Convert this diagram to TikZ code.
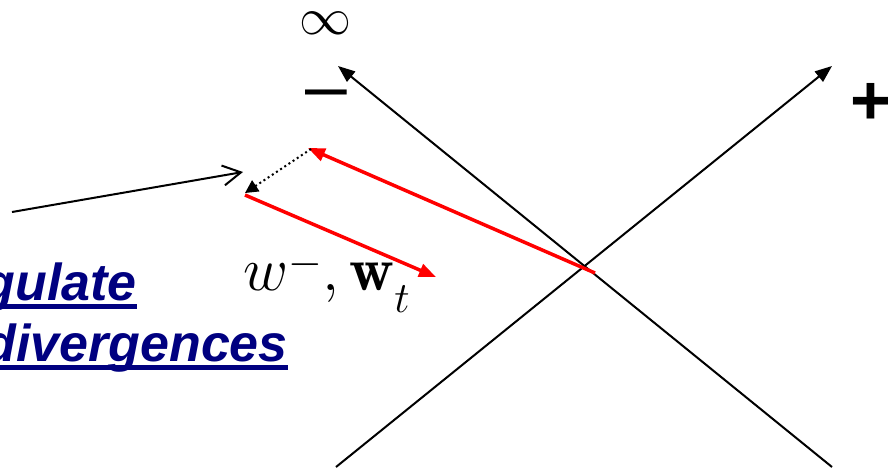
\RequirePackage{fix-cm}
\documentclass[tikz,border=0pt]{standalone}
\usepackage{fontspec}
\newfontfamily\arialfont{Liberation Sans}
\usetikzlibrary{arrows.meta}
\definecolor{navytext}{RGB}{0,0,128}
\definecolor{redline}{RGB}{255,0,0}
\begin{document}
\begin{tikzpicture}[x=1pt,y=-1pt,
  axisline/.style={line width=2pt,-{Triangle[length=17pt,width=13pt]}},
  redarrow/.style={redline,line width=3.5pt,-{Triangle[length=17pt,width=13pt]}},
  dotarrow/.style={line width=2pt,dash pattern=on 2pt off 3pt,-{Triangle[length=13pt,width=13pt]}},
  openarrow/.style={line width=2pt,-{Straight Barb[length=18pt,width=20pt]}},
  bluetxt/.style={inner sep=0pt,text=navytext,font=\arialfont\bfseries\itshape\fontsize{52}{60}\selectfont},
  symtxt/.style={inner sep=0pt,font=\arialfont\bfseries\fontsize{70}{80}\selectfont},
  dashtxt/.style={inner sep=0pt,font=\arialfont\fontsize{75}{80}\selectfont},
  ulinestyle/.style={navytext,line width=5pt}]
\useasboundingbox (0,0) rectangle (888,469);
% coordinates
\coordinate (Abot) at (336,467);
\coordinate (Atop) at (832,66);
\coordinate (Bbot) at (832,467);
\coordinate (Btop) at (338,66);
\coordinate (X) at (595,273);
\coordinate (R1) at (308,148);
\coordinate (P) at (245,195);
\coordinate (R2) at (436,277);
\coordinate (D0) at (311,149);
\coordinate (D1) at (245,193);
\coordinate (L0) at (12,212);
\coordinate (L1) at (243,172);
% axes
\draw[axisline] (Abot) -- (Atop);
\draw[axisline] (Bbot) -- (Btop);
% red arrows
\draw[redarrow] (X) -- (R1);
\draw[redarrow] (P) -- (R2);
% dotted arrow
\draw[dotarrow] (D0) -- (D1);
% open arrow from the left
\draw[openarrow] (L0) -- (L1);
% symbols
\node[inner sep=0pt,font=\fontsize{52}{60}\selectfont] (inf) at (325,23) {$\infty$};
\node[dashtxt,anchor=base] (minus) at (326,111) {–};
\node[symtxt,anchor=base] (plus) at (871,124) {+};
% label
\node[inner sep=0pt,anchor=base west,font=\fontsize{62}{70}\selectfont] (lbl) at (243,290)
  {$w^{\lower8pt\hbox{$\scriptstyle -$}},\mathbf{w}_{\lower13pt\hbox{$\scriptstyle t$}}$};
% blue text
\node[bluetxt,anchor=base east] (t1) at (137,300) {gulate};
\node[bluetxt,anchor=base east] (t2) at (288,361) {divergences};
\draw[ulinestyle] ([yshift=-6pt]t1.base west) -- ([yshift=-6pt]t1.base east);
\draw[ulinestyle] ([yshift=-6pt]t2.base west) -- ([yshift=-6pt]t2.base east);
\end{tikzpicture}
\end{document}
